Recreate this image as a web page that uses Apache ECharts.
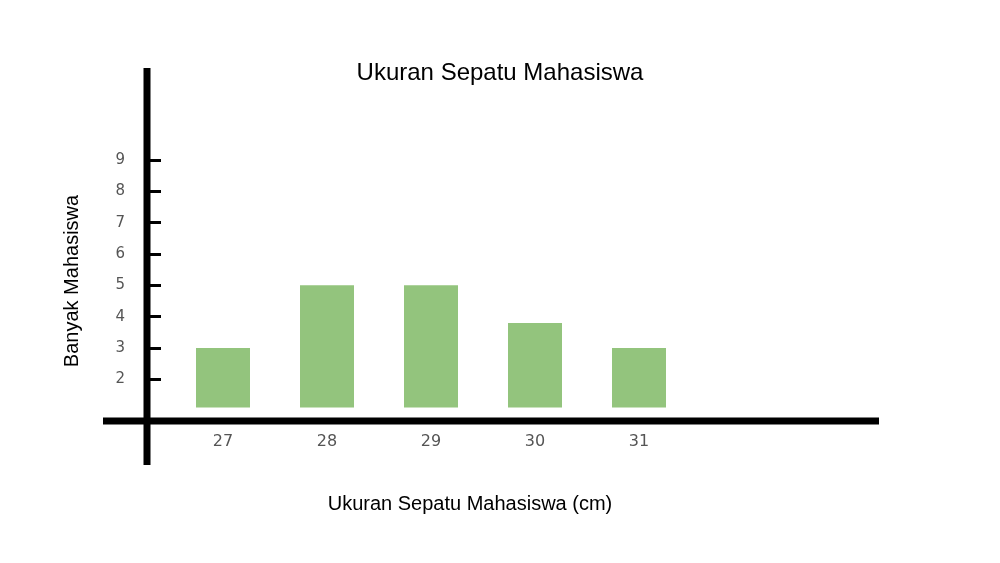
<!DOCTYPE html>
<html><head><meta charset="utf-8">
<script src="https://cdn.jsdelivr.net/npm/echarts@6/dist/echarts.min.js"></script>
<style>html,body{margin:0;background:#fff}#c{width:1000px;height:563px}</style>
</head><body><div id="c"></div>
<script>
const categories = ['27','28','29','30','31','',''];
const counts = [3,5,5,3.8,3,null,null];
const yTicks = [2,3,4,5,6,7,8,9];
const base = 1.1;
const chart = echarts.init(document.getElementById('c'));
chart.setOption({
  animation:false,
  title:{text:'Ukuran Sepatu Mahasiswa',left:'center',top:56,textStyle:{fontFamily:'Liberation Sans',fontSize:24,fontWeight:'normal',color:'#000'}},
  grid:{left:171,width:728,top:66,bottom:121},
  xAxis:{type:'category',data:categories,axisLine:{show:false},axisTick:{show:false},
    axisLabel:{margin:-8,fontFamily:'DejaVu Sans',fontSize:16,color:'#555'}},
  yAxis:{type:'value',min:0,max:12,interval:1,offset:24,splitLine:{show:false},axisLine:{show:false},
    axisTick:{show:true,inside:true,length:14,lineStyle:{width:3,color:'#000'},customValues:yTicks},
    axisLabel:{customValues:yTicks,margin:22,fontFamily:'DejaVu Sans',fontSize:15,color:'#555'}},
  series:[
    {type:'bar',stack:'s',barWidth:54,data:counts.map(v=>v==null?null:base),itemStyle:{color:'transparent'}},
    {type:'bar',stack:'s',barWidth:54,data:counts.map(v=>v==null?null:v-base),itemStyle:{color:'#93c47d'}}
  ],
  graphic:[
    {type:'line',shape:{x1:147,y1:68,x2:147,y2:465},style:{stroke:'#000',lineWidth:7}},
    {type:'line',shape:{x1:103,y1:421,x2:879,y2:421},style:{stroke:'#000',lineWidth:7}},
    {type:'text',x:72,y:281,rotation:Math.PI/2,style:{text:'Banyak Mahasiswa',font:'20px Liberation Sans',fill:'#000',textAlign:'center',textVerticalAlign:'middle'}},
    {type:'text',x:470,y:504,style:{text:'Ukuran Sepatu Mahasiswa (cm)',font:'20px Liberation Sans',fill:'#000',textAlign:'center',textVerticalAlign:'middle'}}
  ]
});
</script></body></html>
